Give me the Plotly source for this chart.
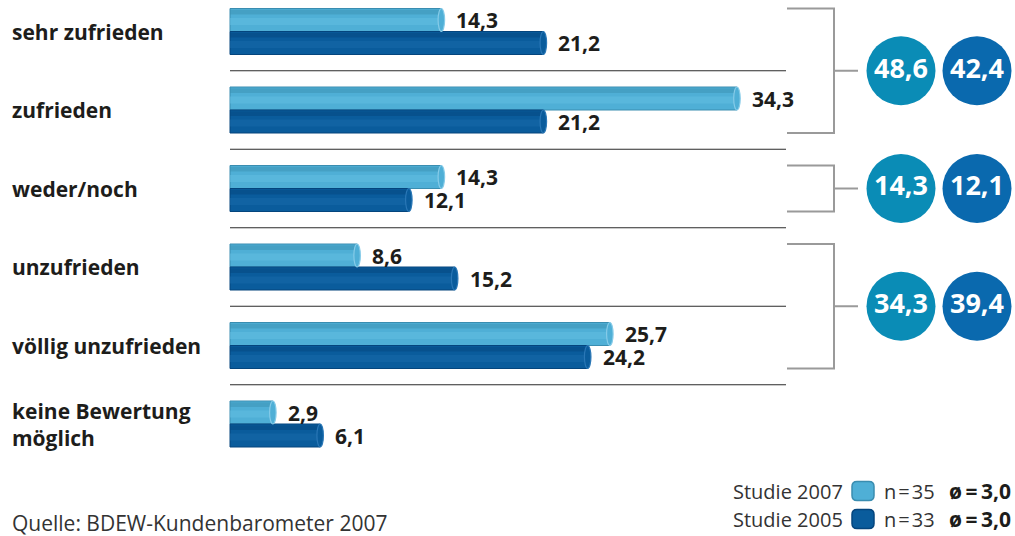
import plotly.graph_objects as go

# --- data ---------------------------------------------------------------
categories = ["sehr zufrieden", "zufrieden", "weder/noch", "unzufrieden",
              "völlig unzufrieden", "keine Bewertung<br>möglich"]
studie_2007 = [14.3, 34.3, 14.3, 8.6, 25.7, 2.9]
studie_2005 = [21.2, 21.2, 12.1, 15.2, 24.2, 6.1]

# grouped totals: (first row, last row, value 2007, value 2005)
groups = [(0, 1, 48.6, 42.4), (2, 2, 14.3, 12.1), (3, 4, 34.3, 39.4)]

legend_rows = [("Studie 2007", "n\u200a=\u200a35", "ø\u2009=\u20093,0"),
               ("Studie 2005", "n\u200a=\u200a33", "ø\u2009=\u20093,0")]
source = "Quelle: BDEW-Kundenbarometer 2007"

# --- styling ------------------------------------------------------------
LIGHT, LIGHT_EDGE, LIGHT_HI, LIGHT_CAP = "#4FAFD6", "#3A8DB0", "#62BDE2", "#86CBE8"
DARK, DARK_EDGE, DARK_HI, DARK_CAP = "#0A5C9C", "#04457D", "#1769A9", "#2A77B6"
CIRC_LIGHT, CIRC_DARK = "#0A8CB6", "#0A69AE"
TXT = "#1d1d1b"
FONT = "Open Sans"
W, H = 1015, 536
BW = 0.293          # bar thickness in row units
CAP = 0.22          # half width of the rounded end cap in x units
X0_PX, PX_PER_UNIT = 230, 14.78
ROW0_PX, ROW_PX = 31.5, 78.5

rows = list(range(len(categories)))
fmt = lambda v: f"{v:.1f}".replace(".", ",")

fig = go.Figure()
shapes = []


def add_bar(vals, offset, color, edge, hi, cap):
    fig.add_trace(go.Bar(x=vals, y=rows, orientation="h", offset=offset, width=BW,
                         marker=dict(color=color, line=dict(color=edge, width=1)),
                         hoverinfo="skip"))
    # darker upper rim and lighter sheen for a rounded look
    fig.add_trace(go.Bar(x=vals, y=rows, orientation="h", offset=offset + 0.015, width=0.06,
                         marker=dict(color=edge, line=dict(width=0), opacity=0.45),
                         hoverinfo="skip"))
    fig.add_trace(go.Bar(x=vals, y=rows, orientation="h", offset=offset + 0.12, width=0.09,
                         marker=dict(color=hi, line=dict(width=0), opacity=0.55),
                         hoverinfo="skip"))
    # elliptical end cap of the cylinder
    for r, v in zip(rows, vals):
        shapes.append(dict(type="circle", xref="x", yref="y",
                           x0=v - CAP, x1=v + CAP, y0=r + offset, y1=r + offset + BW,
                           fillcolor=color, line=dict(color=cap, width=1.2)))


add_bar(studie_2007, -BW, LIGHT, LIGHT_EDGE, LIGHT_HI, LIGHT_CAP)
add_bar(studie_2005, 0.0, DARK, DARK_EDGE, DARK_HI, DARK_CAP)

annotations = []
# value labels next to the bars
for vals, shift in ((studie_2007, -BW / 2), (studie_2005, BW / 2)):
    for r, v in zip(rows, vals):
        annotations.append(dict(x=v, y=r + shift, xref="x", yref="y", text=fmt(v),
                                showarrow=False, xanchor="left", yanchor="middle",
                                xshift=13, font=dict(family=FONT, size=21, color=TXT,
                                                     weight="bold")))
# row labels
for r, c in zip(rows, categories):
    annotations.append(dict(x=12 / W, y=r, xref="paper", yref="y", text=c,
                            showarrow=False, xanchor="left", yanchor="middle",
                            align="left", xshift=-2,
                            font=dict(family=FONT, size=21, color=TXT, weight="bold")))

# separators between rows
for r in rows[:-1]:
    shapes.append(dict(type="line", xref="paper", yref="y", x0=230 / W, x1=786 / W,
                       y0=r + 0.5, y1=r + 0.5, line=dict(color="#2b2b2b", width=1.2)))

# brackets and summary circles
circ_x = [(901 - X0_PX) / PX_PER_UNIT, (977 - X0_PX) / PX_PER_UNIT]
cx, cy, ct, cc = [], [], [], []
for first, last, v07, v05 in groups:
    top, bot, mid = first - BW, last + BW, (first + last) / 2
    bx0, bx1, bx2 = 787 / W, 834 / W, 858 / W
    gray = dict(color="#9a9a9a", width=2)
    shapes.append(dict(type="path", xref="paper", yref="y",
                       path=f"M{bx0},{top} L{bx1},{top} L{bx1},{bot} L{bx0},{bot}",
                       line=gray))
    shapes.append(dict(type="line", xref="paper", yref="y", x0=bx1, x1=bx2,
                       y0=mid, y1=mid, line=gray))
    for x, v, col in zip(circ_x, (v07, v05), (CIRC_LIGHT, CIRC_DARK)):
        cx.append(x); cy.append(mid); ct.append(fmt(v)); cc.append(col)

fig.add_trace(go.Scatter(x=cx, y=cy, mode="markers+text", text=ct,
                         textposition="middle center",
                         textfont=dict(family=FONT, size=27, color="white", weight="bold"),
                         marker=dict(size=69, color=cc, line=dict(width=0)),
                         hoverinfo="skip", cliponaxis=False))


def rounded_rect(x0, x1, y0, y1, rx, ry):
    return (f"M{x0 + rx},{y0} L{x1 - rx},{y0} Q{x1},{y0} {x1},{y0 + ry} "
            f"L{x1},{y1 - ry} Q{x1},{y1} {x1 - rx},{y1} L{x0 + rx},{y1} "
            f"Q{x0},{y1} {x0},{y1 - ry} L{x0},{y0 + ry} Q{x0},{y0} {x0 + rx},{y0} Z")


# legend
for i, (name, n, mean) in enumerate(legend_rows):
    yp = 1 - (491 + 28 * i) / H
    col, edge = (LIGHT, LIGHT_EDGE) if i == 0 else (DARK, DARK_EDGE)
    annotations.append(dict(x=845 / W, y=yp, xref="paper", yref="paper", text=name,
                            showarrow=False, xanchor="right", yanchor="middle",
                            font=dict(family=FONT, size=20, color="#333333")))
    annotations.append(dict(x=882 / W, y=yp, xref="paper", yref="paper", text=n,
                            showarrow=False, xanchor="left", yanchor="middle",
                            font=dict(family=FONT, size=20, color="#333333")))
    annotations.append(dict(x=1013 / W, y=yp, xref="paper", yref="paper", text=mean,
                            showarrow=False, xanchor="right", yanchor="middle",
                            font=dict(family=FONT, size=21, color=TXT, weight="bold")))
    shapes.append(dict(type="path", xref="paper", yref="paper",
                       path=rounded_rect(852 / W, 874 / W, yp - 9.5 / H, yp + 9.5 / H,
                                         5 / W, 5 / H),
                       fillcolor=col, line=dict(color=edge, width=1.5)))

annotations.append(dict(x=12 / W, y=1 - 523 / H, xref="paper", yref="paper", text=source,
                        showarrow=False, xanchor="left", yanchor="middle", xshift=-2,
                        font=dict(family=FONT, size=21, color="#333333")))

fig.update_layout(
    width=W, height=H, margin=dict(l=0, r=0, t=0, b=0),
    paper_bgcolor="white", plot_bgcolor="white",
    barmode="overlay", showlegend=False,
    xaxis=dict(range=[-X0_PX / PX_PER_UNIT, (W - X0_PX) / PX_PER_UNIT],
               visible=False, fixedrange=True),
    yaxis=dict(range=[(H - ROW0_PX) / ROW_PX, -ROW0_PX / ROW_PX],
               visible=False, fixedrange=True),
    annotations=annotations, shapes=shapes,
)

fig.write_html("out.html")
